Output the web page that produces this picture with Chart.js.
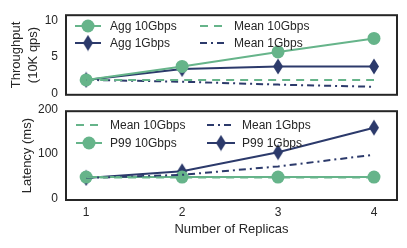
<!DOCTYPE html>
<html>
<head>
<meta charset="utf-8">
<script src="https://cdn.jsdelivr.net/npm/chart.js@4"></script>
<style>
  body { margin: 0; background: #fff; }
  #wrap { position: relative; width: 407px; height: 248px; }
  canvas { position: absolute; left: 0; }
  #topChart { top: 0; }
  #bottomChart { top: 96px; }
</style>
</head>
<body>
<div id="wrap">
  <canvas id="topChart" width="407" height="110"></canvas>
  <canvas id="bottomChart" width="407" height="152"></canvas>
</div>
<script>
var replicas = [1, 2, 3, 4];
var aggTput10 = [1.85, 3.7, 5.7, 7.55];
var aggTput1 = [1.85, 3.35, 3.7, 3.7];
var meanTput10 = [1.85, 1.85, 1.85, 1.85];
var meanTput1 = [1.85, 1.6, 1.2, 0.9];
var meanLat10 = [47, 47, 47, 47];
var meanLat1 = [46, 53, 72, 98];
var p99Lat10 = [48, 48, 48, 48];
var p99Lat1 = [46, 61, 104, 159];
var tputTicks = [0, 5, 10];
var latTicks = [0, 100, 200];

var green = '#66b48a';
var navy = '#2c3a6b';
var font = "'Liberation Sans', Arial, sans-serif";
var textColor = '#262626';

// thin diamond marker like matplotlib 'd'
function diamond() {
    var c = document.createElement('canvas');
    c.width = 12; c.height = 17;
    var g = c.getContext('2d');
    g.fillStyle = navy;
    g.beginPath();
    g.moveTo(6, 0.5); g.lineTo(11, 8.5); g.lineTo(6, 16.5); g.lineTo(1, 8.5);
    g.closePath();
    g.fill();
    return c;
}
var diamondImg = diamond();

function pts(ys) {
    return replicas.map(function (x, i) { return { x: x, y: ys[i] }; });
}

function series(label, ys, color, kind) {
    var ds = {
        label: label,
        data: pts(ys),
        borderColor: color,
        backgroundColor: color,
        borderWidth: 2,
        pointRadius: 0,
        pointHoverRadius: 0
    };
    if (kind === 'circle') {
        ds.pointStyle = 'circle';
        ds.pointRadius = 6.5;
        ds.pointBorderWidth = 0;
    } else if (kind === 'diamond') {
        ds.pointStyle = diamondImg;
        ds.pointRadius = 8;
    } else if (kind === 'dash') {
        ds.borderDash = [8, 6];
    } else if (kind === 'dashdot') {
        ds.borderDash = [7, 4, 2, 4];
    }
    ds.kind = kind;
    return ds;
}

var frame = {
    id: 'frame',
    afterDatasetsDraw: function (chart) {
        var a = chart.chartArea, ctx = chart.ctx;
        ctx.save();
        ctx.strokeStyle = '#262626';
        ctx.lineWidth = 2;
        ctx.strokeRect(a.left, a.top, a.right - a.left, a.bottom - a.top);
        ctx.restore();
    }
};

var boxLegend = {
    id: 'boxLegend',
    afterDraw: function (chart, args, opts) {
        var ctx = chart.ctx;
        ctx.save();
        opts.items.forEach(function (it) {
            var ds = chart.data.datasets[it.ds];
            ctx.strokeStyle = ds.borderColor;
            ctx.lineWidth = 2;
            ctx.setLineDash(ds.borderDash || []);
            ctx.beginPath();
            ctx.moveTo(it.x, it.y);
            ctx.lineTo(it.x + it.len, it.y);
            ctx.stroke();
            ctx.setLineDash([]);
            var mx = it.x + it.len / 2;
            if (ds.kind === 'circle') {
                ctx.fillStyle = ds.borderColor;
                ctx.beginPath();
                ctx.arc(mx, it.y, 6.5, 0, Math.PI * 2);
                ctx.fill();
            } else if (ds.kind === 'diamond') {
                ctx.drawImage(diamondImg, mx - 6, it.y - 8.5);
            }
            ctx.fillStyle = textColor;
            ctx.font = '12px ' + font;
            ctx.textBaseline = 'middle';
            ctx.fillText(ds.label, it.tx, it.y + 1);
        });
        ctx.restore();
    }
};

function fixTicks(list) {
    return function (scale) {
        scale.ticks = list.map(function (v) { return { value: v }; });
    };
}

function makeOptions(yMin, yMax, yTicks, yTitle, titlePad, showX, pad, legendItems) {
    return {
        responsive: false,
        animation: false,
        layout: { padding: pad },
        plugins: {
            legend: { display: false },
            tooltip: { enabled: false },
            boxLegend: { items: legendItems }
        },
        scales: {
            x: {
                type: 'linear',
                min: 0.79,
                max: 4.24,
                display: showX,
                afterBuildTicks: fixTicks(replicas),
                afterFit: function (scale) { scale.height = showX ? 40 : 0; },
                grid: { display: false, drawTicks: false, tickLength: 0 },
                border: { display: false },
                ticks: { color: textColor, font: { family: font, size: 12 }, padding: 5 },
                title: { display: true, text: 'Number of Replicas', color: textColor, font: { family: font, size: 13 }, padding: { top: 4, bottom: 3 } }
            },
            y: {
                min: yMin,
                max: yMax,
                afterBuildTicks: fixTicks(yTicks),
                afterFit: function (scale) { scale.width = 66; },
                grid: { display: false, drawTicks: false, tickLength: 0 },
                border: { display: false },
                ticks: { color: textColor, font: { family: font, size: 12 }, padding: 8 },
                title: { display: true, text: yTitle, color: textColor, font: { family: font, size: 13, lineHeight: 1.3 }, padding: { top: titlePad } }
            }
        }
    };
}

new Chart(document.getElementById('topChart').getContext('2d'), {
    type: 'line',
    data: {
        datasets: [
            series('Mean 10Gbps', meanTput10, green, 'dash'),
            series('Mean 1Gbps', meanTput1, navy, 'dashdot'),
            series('Agg 10Gbps', aggTput10, green, 'circle'),
            series('Agg 1Gbps', aggTput1, navy, 'diamond')
        ]
    },
    options: makeOptions(-0.2, 10.75, tputTicks, ['Throughput', '(10K qps)'], 8, false,
        { left: 0, right: 8, top: 11, bottom: 8 },
        [
            { ds: 2, x: 75, len: 26, tx: 110, y: 26 },
            { ds: 3, x: 75, len: 26, tx: 110, y: 43 },
            { ds: 0, x: 200, len: 28, tx: 234, y: 26 },
            { ds: 1, x: 200, len: 28, tx: 234, y: 43 }
        ]),
    plugins: [frame, boxLegend]
});

new Chart(document.getElementById('bottomChart').getContext('2d'), {
    type: 'line',
    data: {
        datasets: [
            series('Mean 10Gbps', meanLat10, green, 'dash'),
            series('Mean 1Gbps', meanLat1, navy, 'dashdot'),
            series('P99 10Gbps', p99Lat10, green, 'circle'),
            series('P99 1Gbps', p99Lat1, navy, 'diamond')
        ]
    },
    options: makeOptions(-3.5, 196, latTicks, 'Latency (ms)', 19, true,
        { left: 0, right: 8, top: 14, bottom: 8 },
        [
            { ds: 0, x: 76, len: 26, tx: 110, y: 29 },
            { ds: 2, x: 76, len: 26, tx: 110, y: 47 },
            { ds: 1, x: 207, len: 28, tx: 242, y: 29 },
            { ds: 3, x: 207, len: 28, tx: 242, y: 47 }
        ]),
    plugins: [frame, boxLegend]
});
</script>
</body>
</html>
